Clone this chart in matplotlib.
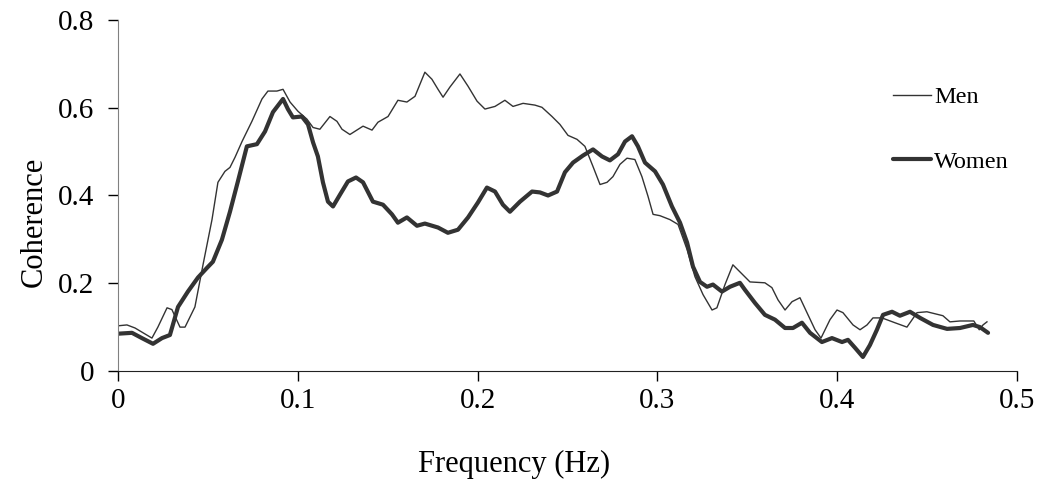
import matplotlib
matplotlib.use("Agg")
import matplotlib.pyplot as plt

# coherence vs frequency
men_f = [0.000, 0.005, 0.0095, 0.0189, 0.0222, 0.0273, 0.030, 0.0345, 0.0373, 0.0428,
         0.0473, 0.0523, 0.0556, 0.0595, 0.0623, 0.0651, 0.069, 0.0745, 0.0801, 0.0834,
         0.0884, 0.0918, 0.0957, 0.1001, 0.1051, 0.1085, 0.1123, 0.1179, 0.1218, 0.1246,
         0.129, 0.1363, 0.1413, 0.1446, 0.1502, 0.1557, 0.1607, 0.1652, 0.1707, 0.1746,
         0.178, 0.1808, 0.1846, 0.1902, 0.1947, 0.1997, 0.2041, 0.2097, 0.2152, 0.2197,
         0.2253, 0.2319, 0.2358, 0.2414, 0.2458, 0.2503, 0.2553, 0.2597, 0.2642, 0.2681,
         0.272, 0.2753, 0.2792, 0.2831, 0.2875, 0.2914, 0.2948, 0.2976, 0.3014, 0.307,
         0.3115, 0.3165, 0.3209, 0.3254, 0.3304, 0.3331, 0.3376, 0.342, 0.3459, 0.3515,
         0.3598, 0.3637, 0.3671, 0.371, 0.3749, 0.3793, 0.3832, 0.3877, 0.391, 0.396,
         0.3999, 0.4032, 0.4088, 0.4127, 0.4166, 0.4199, 0.4249, 0.4321, 0.4388, 0.4444,
         0.4499, 0.4588, 0.4627, 0.4683, 0.476, 0.479, 0.4811, 0.4833]
men = [0.103, 0.105, 0.098, 0.075, 0.100, 0.144, 0.140, 0.100, 0.100, 0.146,
       0.242, 0.345, 0.430, 0.455, 0.464, 0.487, 0.523, 0.569, 0.620, 0.638,
       0.638, 0.642, 0.613, 0.592, 0.574, 0.555, 0.551, 0.580, 0.569, 0.551,
       0.539, 0.558, 0.549, 0.567, 0.580, 0.617, 0.613, 0.626, 0.681, 0.665,
       0.642, 0.624, 0.647, 0.677, 0.649, 0.615, 0.597, 0.603, 0.617, 0.603,
       0.610, 0.606, 0.601, 0.580, 0.562, 0.537, 0.528, 0.512, 0.466, 0.425,
       0.430, 0.443, 0.471, 0.485, 0.482, 0.443, 0.398, 0.357, 0.354, 0.345,
       0.334, 0.277, 0.215, 0.174, 0.139, 0.144, 0.197, 0.242, 0.226, 0.203,
       0.201, 0.190, 0.162, 0.139, 0.158, 0.167, 0.133, 0.094, 0.075, 0.117,
       0.139, 0.133, 0.105, 0.094, 0.105, 0.121, 0.121, 0.110, 0.100, 0.133,
       0.135, 0.126, 0.112, 0.114, 0.114, 0.094, 0.105, 0.112]

women_f = [0.000, 0.0078, 0.0133, 0.0195, 0.0245, 0.0289, 0.0334, 0.0389, 0.0445, 0.0495,
           0.0528, 0.0578, 0.0623, 0.0667, 0.0717, 0.0773, 0.0818, 0.0862, 0.0918, 0.0945,
           0.0973, 0.1023, 0.1057, 0.1085, 0.1112, 0.114, 0.1168, 0.1196, 0.1235, 0.1279,
           0.1324, 0.1363, 0.1418, 0.1474, 0.1524, 0.1557, 0.1607, 0.1663, 0.1707, 0.178,
           0.1835, 0.1891, 0.1947, 0.2002, 0.2052, 0.2097, 0.2141, 0.218, 0.2236, 0.2303,
           0.2347, 0.2392, 0.2442, 0.2486, 0.2531, 0.2586, 0.2642, 0.2692, 0.2736, 0.2781,
           0.282, 0.2859, 0.2892, 0.2931, 0.2987, 0.3031, 0.3081, 0.3126, 0.3165, 0.3198,
           0.3237, 0.3276, 0.3309, 0.3359, 0.3404, 0.3459, 0.3487, 0.3543, 0.3598, 0.3654,
           0.371, 0.3754, 0.3804, 0.3849, 0.3915, 0.3971, 0.4027, 0.406, 0.4099, 0.4143,
           0.4182, 0.4221, 0.4255, 0.4305, 0.4349, 0.4405, 0.4461, 0.4533, 0.4611, 0.4683,
           0.4755, 0.4794, 0.4839]
women = [0.085, 0.087, 0.075, 0.062, 0.075, 0.082, 0.146, 0.181, 0.213, 0.235,
         0.249, 0.299, 0.363, 0.432, 0.512, 0.517, 0.546, 0.590, 0.620, 0.597,
         0.578, 0.580, 0.562, 0.521, 0.489, 0.430, 0.386, 0.375, 0.402, 0.432,
         0.441, 0.430, 0.386, 0.379, 0.357, 0.338, 0.350, 0.331, 0.336, 0.327,
         0.315, 0.322, 0.350, 0.384, 0.418, 0.409, 0.379, 0.363, 0.386, 0.409,
         0.407, 0.400, 0.409, 0.453, 0.475, 0.491, 0.505, 0.489, 0.480, 0.494,
         0.523, 0.535, 0.512, 0.475, 0.455, 0.425, 0.375, 0.338, 0.293, 0.238,
         0.203, 0.192, 0.197, 0.181, 0.192, 0.201, 0.185, 0.155, 0.128, 0.117,
         0.098, 0.098, 0.110, 0.087, 0.066, 0.075, 0.066, 0.071, 0.053, 0.032,
         0.059, 0.094, 0.128, 0.135, 0.126, 0.135, 0.121, 0.105, 0.096, 0.098,
         0.105, 0.100, 0.087]

xticks = [0, 0.1, 0.2, 0.3, 0.4, 0.5]
xtick_labels = ["0", "0.1", "0.2", "0.3", "0.4", "0.5"]
yticks = [0, 0.2, 0.4, 0.6, 0.8]
ytick_labels = ["0", "0.2", "0.4", "0.6", "0.8"]

plt.rcParams['font.family'] = ['Liberation Serif', 'DejaVu Serif']

fig = plt.figure(figsize=(10.42, 4.91), dpi=100)
ax = fig.add_axes([0.1132, 0.2444, 0.8628, 0.7149])

ax.plot(men_f, men, color='#333333', lw=1.0, label='Men')
ax.plot(women_f, women, color='#333333', lw=3.0, label='Women',
        solid_joinstyle='round', solid_capstyle='round')

ax.set_xlim(0, 0.5)
ax.set_ylim(0, 0.8)
ax.set_xticks(xticks)
ax.set_xticklabels(xtick_labels)
ax.set_yticks(yticks)
ax.set_yticklabels(ytick_labels)
ax.tick_params(axis='both', labelsize=21, length=7, width=1, direction='out')
ax.tick_params(axis='y', pad=10)
ax.tick_params(axis='x', pad=5)

for s in ['top', 'right']:
    ax.spines[s].set_visible(False)
ax.spines['left'].set_color('#808080')
ax.spines['bottom'].set_color('#222222')

ax.set_xlabel('Frequency (Hz)', fontsize=22)
ax.xaxis.set_label_coords(0.4405, -0.225)
ax.set_ylabel('Coherence', fontsize=22)
ax.yaxis.set_label_coords(-0.0765, 0.4245)

ax.legend(loc='upper left', bbox_to_anchor=(893 / 1042, 1 - 86 / 491),
          bbox_transform=fig.transFigure, frameon=False, fontsize=17.5,
          handlelength=1.55, handletextpad=0.15, labelspacing=1.75,
          borderpad=0, borderaxespad=0)

fig.savefig('out.png', dpi=100)
